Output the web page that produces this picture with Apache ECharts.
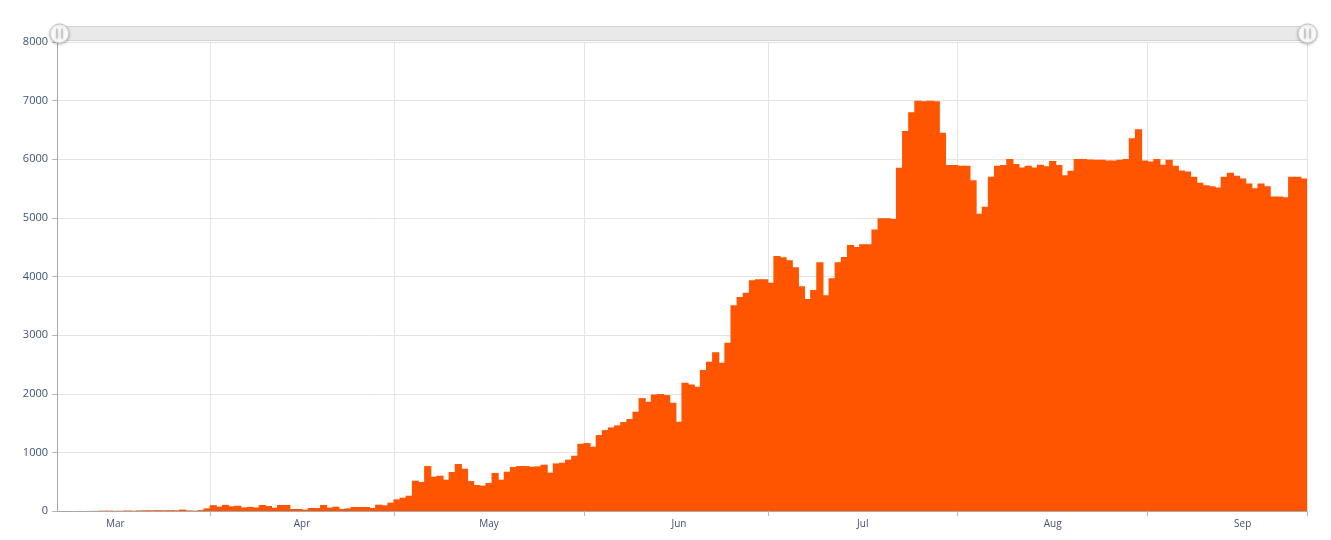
<!DOCTYPE html>
<html>
<head>
<meta charset="utf-8">
<script src="https://cdn.jsdelivr.net/npm/echarts@6/dist/echarts.min.js"></script>
<style>
html,body{margin:0;padding:0;background:#fff;}
#chart{width:1331px;height:540px;}
</style>
</head>
<body>
<div id="chart"></div>
<script>
// Daily values, first day 2020-03-07
const startDate = '2020-03-07';
const marValues = [0,0,0,1,0,1,2, 5,6,3,4,8,5,10, 12,12,14,12,14,12, 25, 10,6, 15, 45];
const aprValues = [100,75,105,80,90,60,70,60,102,85, 57,102,102,34,34,23,51,51,102,57, 74,34,45,68,68,68,51,108,97,142];
const mayValues = [199,227,261,517,494,767,585,602,534,665, 801,721,511,443,432,477,648,534,670,750, 767,767,756,761,790,653,812,824,875,943, 1147];
const junValues = [1159,1096,1295,1380,1426,1460,1517,1568,1693,1926, 1863,1988,1994,1977,1846,1522,2187,2158,2119,2403, 2545,2710,2528,2869,3508,3650,3723,3938,3955,3955];
const julValues = [3893,4350,4328,4277,4158,3833,3615,3768,4242,3682, 3971,4242,4333,4537,4503,4548,4548,4801,4992,4992, 4982,5855,6483,6800,7000,6990,7000,6990,6450,5900, 5900];
const augValues = [5890,5890,5640,5070,5190,5700,5890,5900,6005,5920, 5860,5890,5860,5905,5880,5970,5900,5725,5805,6005, 6005,5995,5990,5990,5980,5980,5990,6005,6360,6510, 5980];
const sepValues = [5960,6005,5905,5990,5890,5810,5790,5700,5600,5555, 5540,5520,5700,5770,5720,5670,5585,5505,5585,5540, 5365,5365,5350,5700,5700,5670];

const tickLabels = ['Mar','Apr','May','Jun','Jul','Aug','Sep'];
const labelDays = ['2020-03-16','2020-04-15','2020-05-16','2020-06-16','2020-07-16','2020-08-16','2020-09-16'];
const monthStarts = ['2020-04-01','2020-05-01','2020-06-01','2020-07-01','2020-08-01','2020-09-01'];
const yTicks = [0,1000,2000,3000,4000,5000,6000,7000,8000];

const values = [].concat(marValues, aprValues, mayValues, junValues, julValues, augValues, sepValues);
const dates = [];
(function(){
  const d = new Date(startDate + 'T12:00:00Z');
  for (let i = 0; i < values.length; i++) {
    dates.push(d.toISOString().slice(0,10));
    d.setUTCDate(d.getUTCDate() + 1);
  }
})();

const txtColor = '#3f5373';
const barColor = '#ff5500';
const chart = echarts.init(document.getElementById('chart'), null, {renderer:'canvas'});
chart.setOption({
  animation: false,
  textStyle: {fontFamily: 'Open Sans, Noto Sans, sans-serif'},
  grid: {left: 57, right: 24, top: 42, bottom: 29, containLabel: false},
  dataZoom: [{
    type: 'slider',
    xAxisIndex: 0,
    start: 0, end: 100,
    top: 26, height: 15, left: 57, right: 24,
    showDetail: false,
    showDataShadow: false,
    brushSelect: false,
    moveHandleSize: 0,
    backgroundColor: '#e9e9e9',
    fillerColor: '#e9e9e9',
    borderColor: '#d4d4d4',
    handleIcon: 'path://M0,-10A10,10,0,1,1,0,10A10,10,0,1,1,0,-10Z M-3,-5L-2.4,-5L-2.4,5L-3,5Z M2.4,-5L3,-5L3,5L2.4,5Z',
    handleSize: 19,
    handleStyle: {color: '#ffffff', borderColor: '#c4c4c4', borderWidth: 1, shadowBlur: 3, shadowColor: 'rgba(0,0,0,0.25)', shadowOffsetY: 1},
    emphasis: {handleStyle: {color: '#ffffff', borderColor: '#c4c4c4'}}
  }],
  xAxis: {
    type: 'category',
    data: dates,
    boundaryGap: true,
    axisLine: {show: true, lineStyle: {color: '#a8a8a8', width: 1}},
    axisTick: {
      show: true, length: 5,
      interval: function(i, v){ return monthStarts.indexOf(v) >= 0; },
      lineStyle: {color: '#b8b8b8'}
    },
    splitLine: {
      show: true,
      interval: function(i, v){ return monthStarts.indexOf(v) >= 0; },
      lineStyle: {color: '#e4e4e4', width: 1}
    },
    axisLabel: {
      interval: function(i, v){ return labelDays.indexOf(v) >= 0; },
      formatter: function(v){
        const k = labelDays.indexOf(v);
        if (k < 0) return '';
        if (tickLabels[k] === 'Apr') return '{s|' + tickLabels[k] + '}';
        return tickLabels[k];
      },
      rich: {s: {color: txtColor, fontSize: 10, padding: [0,0,0,6], fontFamily: 'Open Sans'}},
      color: txtColor, fontSize: 10, margin: 8
    }
  },
  yAxis: {
    type: 'value',
    min: yTicks[0], max: yTicks[yTicks.length-1], interval: 1000,
    axisLine: {show: true, lineStyle: {color: '#a8a8a8', width: 1}},
    axisTick: {show: true, length: 5, lineStyle: {color: '#b8b8b8'}},
    splitLine: {show: true, lineStyle: {color: '#e4e4e4', width: 1}},
    axisLabel: {color: txtColor, fontSize: 11, margin: 9, formatter: function(v){ return String(v); }}
  },
  series: [{
    type: 'bar',
    data: values,
    barWidth: 7.2,
    barGap: '0%',
    itemStyle: {color: barColor},
    emphasis: {disabled: true}
  }]
});
</script>
</body>
</html>
